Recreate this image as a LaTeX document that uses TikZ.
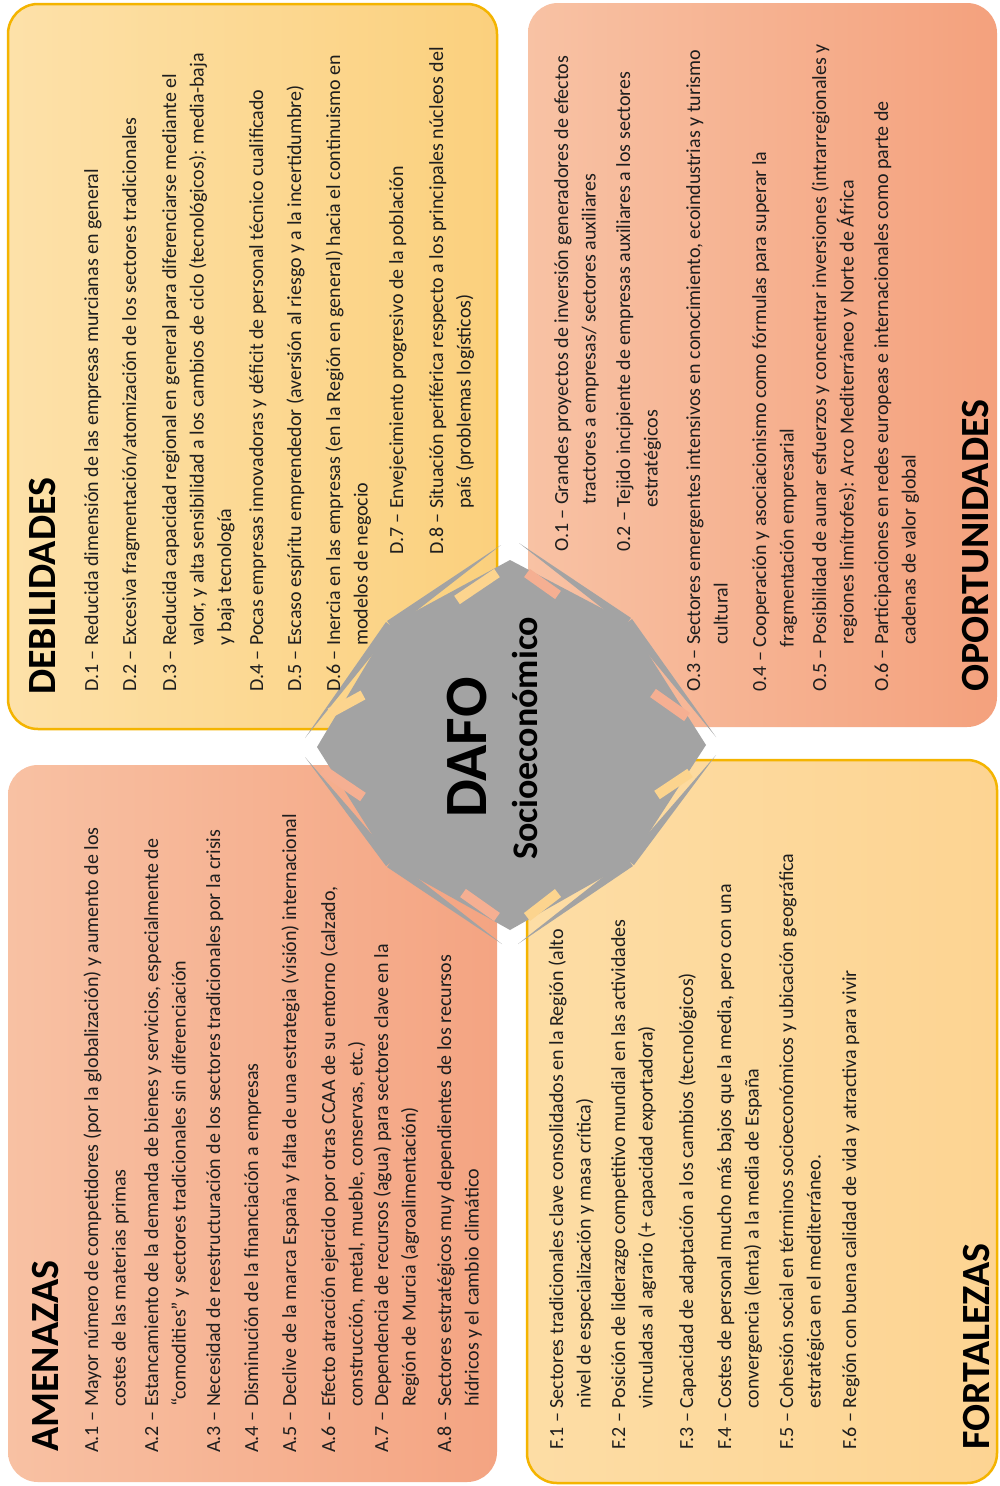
\documentclass[tikz,border=0pt]{standalone}
\usepackage{fontspec}
\setmainfont{Carlito}
\usetikzlibrary{calc}
\definecolor{debL}{HTML}{FDE1A9}
\definecolor{debR}{HTML}{FBD07D}
\definecolor{gold}{HTML}{F4B400}
\definecolor{opoL}{HTML}{F8C2A4}
\definecolor{opoR}{HTML}{F4A17D}
\definecolor{ameL}{HTML}{F8C1A3}
\definecolor{ameR}{HTML}{F4A482}
\definecolor{forL}{HTML}{FDDDA5}
\definecolor{forR}{HTML}{FDD492}
\definecolor{dgray}{HTML}{A3A3A3}
\definecolor{barY}{HTML}{FCD48E}
\definecolor{barS}{HTML}{F5AF92}
\definecolor{txt}{HTML}{1E1E1E}
\newcommand{\itm}[2]{\begin{tabular}[t]{@{}l@{\ }l@{}}#1 –&#2\end{tabular}}
\begin{document}
\begin{tikzpicture}[x=1pt,y=-1pt,
  body/.style={rotate=90,anchor=base west,inner sep=0pt,text=txt,font=\fontsize{20}{27.5}\selectfont},
  head/.style={rotate=90,anchor=base west,inner sep=0pt,text=black,font=\fontsize{40}{48}\selectfont\bfseries},
  panel/.style={rounded corners=30pt},
  slot/.style={line width=10pt}]
\useasboundingbox (0,0) rectangle (1000,1486);
\fill[white] (0,0) rectangle (1000,1486);
% panels
\path[panel,left color=debL,right color=debR,draw=gold,line width=2.5pt] (8,4) rectangle (497,729);
\path[panel,left color=opoL,right color=opoR] (528,3) rectangle (997,727);
\path[panel,left color=ameL,right color=ameR] (8,765) rectangle (497,1482);
\path[panel,left color=forL,right color=forR,draw=gold,line width=2.5pt] (527,760) rectangle (997,1483);
% centre shape
\coordinate (T) at (510,560);
\coordinate (UR) at (628,622);
\coordinate (R) at (706,745);
\coordinate (LR) at (630,862);
\coordinate (B) at (510,930);
\coordinate (LL) at (390,863);
\coordinate (L) at (317,747);
\coordinate (UL) at (390,625);
\fill[dgray] (T) -- (UR) -- (R) -- (LR) -- (B) -- (LL) -- (L) -- (UL) -- cycle;
\coordinate (n1) at (501,545);
\coordinate (n2) at (519,543);
\coordinate (n3) at (305,738);
\coordinate (n4) at (305,757);
\coordinate (n5) at (502,944);
\coordinate (n6) at (518,944);
\coordinate (n7) at (716,737);
\coordinate (n8) at (716,755);
\foreach \v/\n in {UL/n1,UR/n2,UL/n3,LL/n4,LL/n5,LR/n6,UR/n7,LR/n8}{
  \fill[dgray] ($(\v)!5pt!90:(\n)$) -- (\n) -- ($(\v)!5pt!-90:(\n)$) -- cycle;
}
% slots
\draw[slot,barY] (457,600) -- (497,573);
\draw[slot,barS] (527,573) -- (558,595);
\draw[slot,barY] (330,713) -- (363,695);
\draw[slot,barS] (653,693) -- (687,717);
\draw[slot,barS] (323,770) -- (363,797);
\draw[slot,barS] (463,893) -- (497,917);
\draw[slot,barY] (527,917) -- (558,893);
\draw[slot,barY] (657,795) -- (690,773);
\node[rotate=90,anchor=base west,inner sep=0pt,font=\fontsize{60}{60}\selectfont\bfseries] (dafo) at (486,818) {DAFO};
\node[rotate=90,anchor=base west,inner sep=0pt,font=\fontsize{36}{36}\selectfont\bfseries] (socio) at (537,860) {Socioeconómico};
% DEBILIDADES
\node[head] (hD) at (55,695) {DEBILIDADES};
\node[body] (d1) at (98,692) {\itm{D.1}{Reducida dimensión de las empresas murcianas en general}};
\node[body] (d2) at (136,692) {\itm{D.2}{Excesiva fragmentación/atomización de los sectores tradicionales}};
\node[body] (d3) at (176,692) {\itm{D.3}{Reducida capacidad regional en general para diferenciarse mediante el\\ &valor, y alta sensibilidad a los cambios de ciclo (tecnológicos): media-baja\\ &y baja tecnología}};
\node[body] (d4) at (263,692) {\itm{D.4}{Pocas empresas innovadoras y déficit de personal técnico cualificado}};
\node[body] (d5) at (301,692) {\itm{D.5}{Escaso espíritu emprendedor (aversión al riesgo y a la incertidumbre)}};
\node[body] (d6) at (340,692) {\itm{D.6}{Inercia en las empresas (en la Región en general) hacia el continuismo en\\ &modelos de negocio}};
\node[body] (d7) at (403,555) {\itm{D.7}{Envejecimiento progresivo de la población}};
\node[body] (d8) at (443,555) {\itm{D.8}{Situación periférica respecto a los principales núcleos del\\ &país (problemas logísticos)}};
% OPORTUNIDADES
\node[head] (hO) at (988,692) {OPORTUNIDADES};
\node[body] (o1) at (568,552) {\itm{O.1}{Grandes proyectos de inversión generadores de efectos\\ &tractores a empresas/ sectores auxiliares}};
\node[body] (o2) at (630,552) {\itm{0.2}{Tejido incipiente de empresas auxiliares a los sectores\\ &estratégicos}};
\node[body] (o3) at (700,692) {\itm{O.3}{Sectores emergentes intensivos en conocimiento, ecoindustrias y turismo\\ &cultural}};
\node[body] (o4) at (766,692) {\itm{0.4}{Cooperación y asociacionismo como fórmulas para superar la\\ &fragmentación empresarial}};
\node[body] (o5) at (826,692) {\itm{O.5}{Posibilidad de aunar esfuerzos y concentrar inversiones (intrarregionales y\\ &regiones limítrofes): Arco Mediterráneo y Norte de África}};
\node[body] (o6) at (888,692) {\itm{O.6}{Participaciones en redes europeas e internacionales como parte de\\ &cadenas de valor global}};
% AMENAZAS
\node[head] (hA) at (58,1452) {AMENAZAS};
\node[body] (a1) at (98,1453) {\itm{A.1}{Mayor número de competidores (por la globalización) y aumento de los\\ &costes de las materias primas}};
\node[body] (a2) at (158,1453) {\itm{A.2}{Estancamiento de la demanda de bienes y servicios, especialmente de\\ &“comodities” y sectores tradicionales sin diferenciación}};
\node[body] (a3) at (220,1453) {\itm{A.3}{Necesidad de reestructuración de los sectores tradicionales por la crisis}};
\node[body] (a4) at (258,1453) {\itm{A.4}{Disminución de la financiación a empresas}};
\node[body] (a5) at (296,1453) {\itm{A.5}{Declive de la marca España y falta de una estrategia (visión) internacional}};
\node[body] (a6) at (335,1453) {\itm{A.6}{Efecto atracción ejercido por otras CCAA de su entorno (calzado,\\ &construcción, metal, mueble, conservas, etc.)}};
\node[body] (a7) at (388,1453) {\itm{A.7}{Dependencia de recursos (agua) para sectores clave en la\\ &Región de Murcia (agroalimentación)}};
\node[body] (a8) at (451,1453) {\itm{A.8}{Sectores estratégicos muy dependientes de los recursos\\ &hídricos y el cambio climático}};
% FORTALEZAS
\node[head] (hF) at (989,1450) {FORTALEZAS};
\node[body] (f1) at (563,1450) {\itm{F.1}{Sectores tradicionales clave consolidados en la Región (alto\\ &nivel de especialización y masa crítica)}};
\node[body] (f2) at (625,1450) {\itm{F.2}{Posición de liderazgo competitivo mundial en las actividades\\ &vinculadas al agrario (+ capacidad exportadora)}};
\node[body] (f3) at (693,1450) {\itm{F.3}{Capacidad de adaptación a los cambios (tecnológicos)}};
\node[body] (f4) at (731,1450) {\itm{F.4}{Costes de personal mucho más bajos que la media, pero con una\\ &convergencia (lenta) a la media de España}};
\node[body] (f5) at (793,1450) {\itm{F.5}{Cohesión social en términos socioeconómicos y ubicación geográfica\\ &estratégica en el mediterráneo.}};
\node[body] (f6) at (856,1450) {\itm{F.6}{Región con buena calidad de vida y atractiva para vivir}};
\end{tikzpicture}
\end{document}
